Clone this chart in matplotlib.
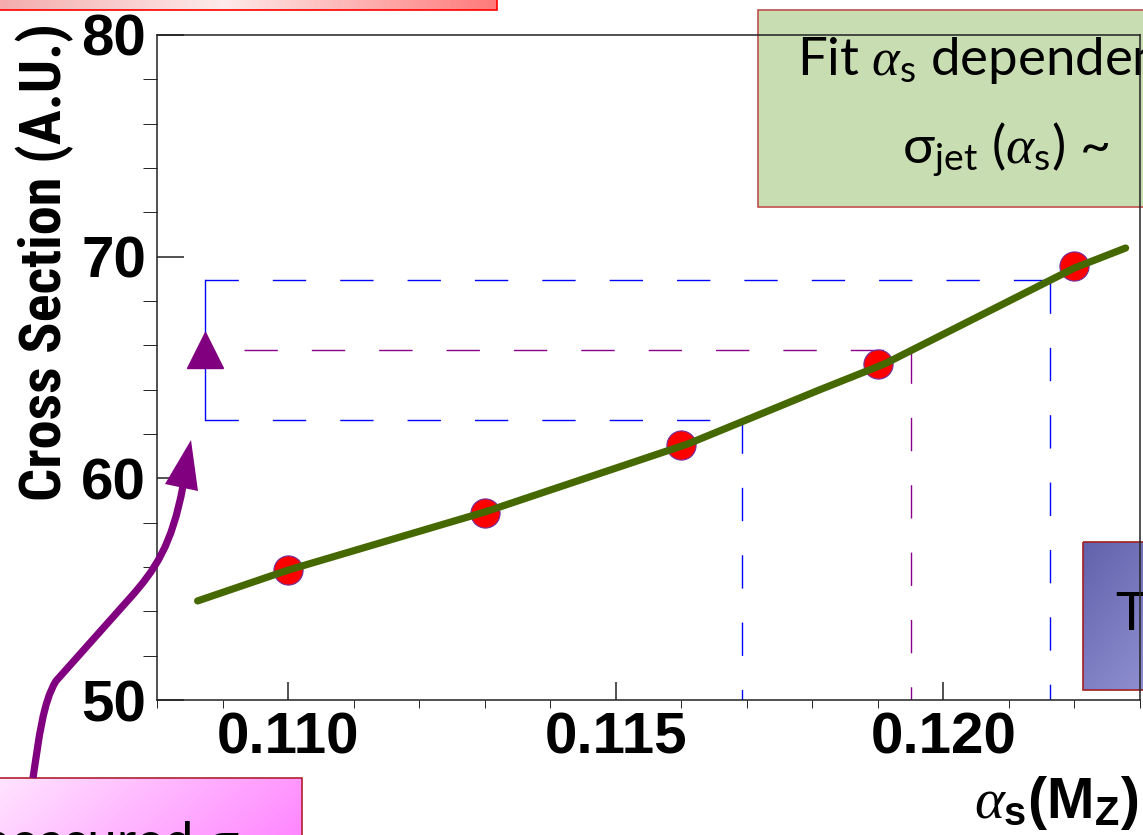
import numpy as np
import matplotlib
matplotlib.use("Agg")
import matplotlib.pyplot as plt
from matplotlib.ticker import MultipleLocator, FixedLocator, FixedFormatter
from matplotlib.patches import Rectangle, Polygon, PathPatch
from matplotlib.path import Path
from matplotlib import font_manager

# ---------------- data ----------------
alpha_s = [0.110, 0.113, 0.116, 0.119, 0.122]
xsec = [55.86, 58.43, 61.50, 65.16, 69.60]
# hand-drawn fit curve
curve_alpha = [0.10862, 0.1100, 0.1130, 0.1161, 0.1181, 0.1191, 0.1220, 0.12278]
curve_xsec = [54.47, 55.86, 58.48, 61.55, 63.98, 65.16, 69.49, 70.39]
meas_xsec = [62.63, 65.79, 68.94]        # lower, central, upper measured cross section
meas_alpha = [0.11692, 0.11951, 0.12162]  # alpha_s read for lower, central, upper
bracket_alpha = 0.10874
central_start = 0.10933
x_ticks = [0.110, 0.115, 0.120]
x_ticklabels = ["0.110", "0.115", "0.120"]
y_ticks = [50, 60, 70, 80]
y_ticklabels = ["50", "60", "70", "80"]

# ---------------- fonts ----------------
names = {f.name for f in font_manager.fontManager.ttflist}
cond = None
for cand in ["Liberation Sans Narrow", "Arial Narrow", "Roboto Condensed",
             "Open Sans Condensed", "Nimbus Sans Narrow"]:
    if cand in names:
        cond = cand
        break
plt.rcParams["font.family"] = ["Liberation Sans", "DejaVu Sans"]
plt.rcParams["mathtext.fontset"] = "custom"
plt.rcParams["mathtext.rm"] = "Lato"
plt.rcParams["mathtext.it"] = "Liberation Serif:italic"
plt.rcParams["mathtext.bf"] = "Liberation Sans:bold"
SLIDE = ["Lato", "DejaVu Sans"]

W, H = 1143, 835
fig = plt.figure(figsize=(W / 100, H / 100), dpi=100)

bg = fig.add_axes([0, 0, 1, 1], zorder=0)
ax = fig.add_axes([157 / W, 1 - 700 / H, (1140 - 157) / W, (700 - 35) / H], zorder=1)
ax.patch.set_alpha(0)
fg = fig.add_axes([0, 0, 1, 1], zorder=2)


def grad_box(axx, x0, y0, x1, y1, stops, edge, diag=0.3):
    nx, ny = 128, 32
    gx = np.linspace(0, 1, nx)[None, :]
    gy = np.linspace(0, 1, ny)[:, None]
    t = np.clip((gx + diag * gy) / (1 + diag), 0, 1)
    pos = np.array([s[0] for s in stops])
    cols = np.array([s[1] for s in stops], dtype=float) / 255.0
    rgb = np.stack([np.interp(t, pos, cols[:, k]) for k in range(3)], axis=-1)
    axx.imshow(rgb, extent=(x0, x1, y1, y0), aspect="auto",
               interpolation="bilinear", zorder=1)
    axx.add_patch(Rectangle((x0, y0), x1 - x0, y1 - y0, fill=False,
                            ec=edge, lw=1.2, zorder=2))


# --- slide boxes behind the plot ---
grad_box(bg, -2, -5, 497, 10,
         [(0, (244, 172, 172)), (0.45, (253, 234, 234)), (1, (255, 122, 122))],
         "#ff0000", diag=0.0)
bg.add_patch(Rectangle((758, 10), 420, 197, fc="#c8deb2", ec="#c0504d", lw=1.2, zorder=1))
grad_box(bg, 1083, 542, 1160, 690,
         [(0, (98, 98, 172)), (1, (146, 146, 212))], "#a02020", diag=1.5)
grad_box(bg, -2, 778, 302, 860,
         [(0, (255, 228, 255)), (1, (255, 128, 255))], "#b02030", diag=0.3)

bg.text(797, 75, r"Fit $\alpha_{\rm s}$ dependence", fontfamily=SLIDE,
        fontsize=38, ha="left", va="baseline", zorder=3)
bg.text(902, 163, r"σ$_{\rm jet}$ ($\alpha_{\rm s}$) ~ ", fontfamily=SLIDE,
        fontsize=38.5, ha="left", va="baseline", zorder=3)
bg.text(1115, 630, "T", fontfamily=SLIDE, fontsize=38,
        ha="left", va="baseline", zorder=3)
bg.text(-33, 859, "measured σ", fontfamily=SLIDE, fontsize=38,
        ha="left", va="baseline", zorder=3)

# axis titles
if cond is not None:
    bg.text(45, 262, "Cross Section (A.U.)", rotation=90, fontfamily=cond,
            fontweight="bold", fontsize=42, ha="center", va="center", zorder=3)
else:
    bg.text(45, 262, "Cross Section (A.U.)", rotation=90, fontweight="bold",
            fontsize=35, ha="center", va="center", zorder=3)
bg.text(1138, 818, r"$\alpha_{\mathbf{s}}$(M$_{\mathbf{Z}}$)", fontweight="bold",
        fontsize=41, ha="right", va="baseline", zorder=3)

# ---------------- main plot ----------------
ax.set_xlim(0.108, 0.123)
ax.set_ylim(50, 80)

lw_d = 1.0
dash = (0, (24, 24.5))
blue, purple = "#0000ff", "#8b008b"
ax.plot([bracket_alpha, meas_alpha[2]], [meas_xsec[2]] * 2, color=blue, lw=lw_d, ls=dash, zorder=2)
ax.plot([meas_alpha[2]] * 2, [meas_xsec[2], 50], color=blue, lw=lw_d, ls=dash, zorder=2)
ax.plot([bracket_alpha, meas_alpha[0]], [meas_xsec[0]] * 2, color=blue, lw=lw_d, ls=dash, zorder=2)
ax.plot([meas_alpha[0]] * 2, [meas_xsec[0], 50], color=blue, lw=lw_d, ls=dash, zorder=2)
ax.plot([central_start, meas_alpha[1]], [meas_xsec[1]] * 2, color=purple, lw=lw_d, ls=dash, zorder=2)
ax.plot([meas_alpha[1]] * 2, [meas_xsec[1], 50], color=purple, lw=lw_d, ls=dash, zorder=2)
ax.plot([bracket_alpha] * 2, [meas_xsec[0], meas_xsec[2]], color=blue, lw=lw_d, zorder=2)
ax.plot([bracket_alpha], [meas_xsec[1]], marker="^", ms=26, color="#800080", ls="none", zorder=3)

# points and hand-drawn fit curve
ax.plot(alpha_s, xsec, "o", ms=21, mfc="#ff0000", mec="#7030a0", mew=0.8, ls="none", zorder=4)
ax.plot(curve_alpha, curve_xsec, color="#456800", lw=5.2, solid_capstyle="round",
        solid_joinstyle="round", zorder=5)

# ticks
ax.xaxis.set_major_locator(FixedLocator(x_ticks))
ax.xaxis.set_major_formatter(FixedFormatter(x_ticklabels))
ax.xaxis.set_minor_locator(MultipleLocator(0.001))
ax.yaxis.set_major_locator(FixedLocator(y_ticks))
ax.yaxis.set_major_formatter(FixedFormatter(y_ticklabels))
ax.yaxis.set_minor_locator(MultipleLocator(2))
ax.tick_params(direction="in", width=1.1, color="#222222")
ax.tick_params(axis="x", which="major", length=13, pad=8)
ax.tick_params(axis="x", which="minor", length=6)
ax.tick_params(axis="y", which="major", length=19.5, pad=8)
ax.tick_params(axis="y", which="minor", length=10)
for lab in ax.get_xticklabels() + ax.get_yticklabels():
    lab.set_fontweight("bold")
    lab.set_fontsize(42)
for s in ax.spines.values():
    s.set_linewidth(1.1)
    s.set_color("#222222")

# curved purple arrow in front (slide annotation, pixel coordinates)
arrow_verts = [(33, 778), (39, 738), (43, 702), (56, 681),
               (130, 598),
               (155, 570), (172, 545), (183, 486)]
arrow_codes = [Path.MOVETO, Path.CURVE4, Path.CURVE4, Path.CURVE4,
               Path.LINETO,
               Path.CURVE4, Path.CURVE4, Path.CURVE4]
fg.add_patch(PathPatch(Path(arrow_verts, arrow_codes), fill=False, ec="#800080",
                       lw=5.2, capstyle="butt", joinstyle="round", zorder=3))
fg.add_patch(Polygon([(191, 440), (165, 484), (198, 491)], closed=True,
                     fc="#800080", ec="none", zorder=4))

for a in (bg, fg):
    a.set_xlim(0, W)
    a.set_ylim(H, 0)
    a.axis("off")

fig.savefig("out.png", dpi=100)
